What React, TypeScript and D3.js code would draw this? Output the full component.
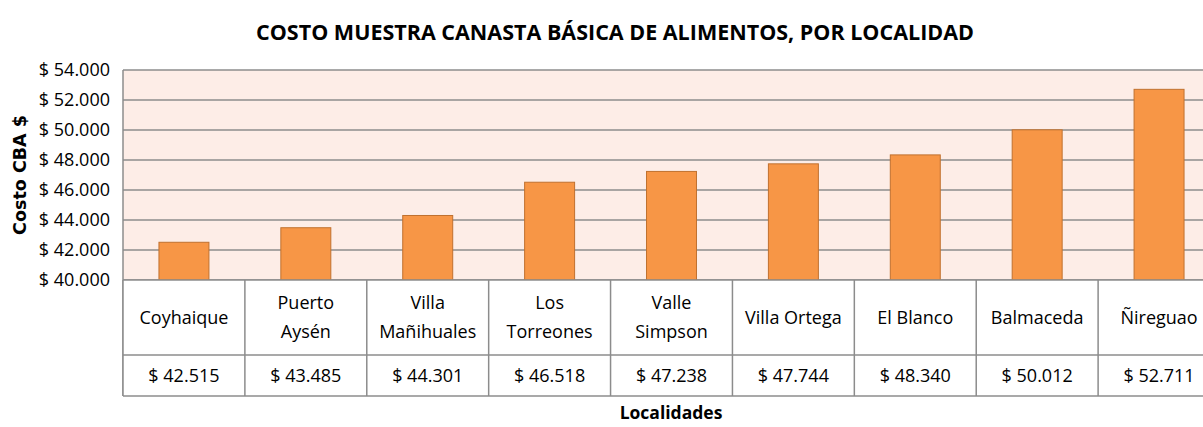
import React from "react";
import * as d3 from "d3";

const categories: string[][] = [
  ["Coyhaique"],
  ["Puerto", "Aysén"],
  ["Villa", "Mañihuales"],
  ["Los", "Torreones"],
  ["Valle", "Simpson"],
  ["Villa Ortega"],
  ["El Blanco"],
  ["Balmaceda"],
  ["Ñireguao"],
];
const values: number[] = [42515, 43485, 44301, 46518, 47238, 47744, 48340, 50012, 52711];
const yTicks: number[] = [40000, 42000, 44000, 46000, 48000, 50000, 52000, 54000];

const W = 1203;
const H = 427;
const left = 123;
const right = 1220;
const top = 70;
const bottom = 280;
const row1 = 355;
const row2 = 396;

const FONT = "'Open Sans', sans-serif";

const fmt = (v: number) => {
  const s = Math.round(v).toString();
  return s.slice(0, s.length - 3) + "." + s.slice(s.length - 3);
};

export default function App() {
  const keys = categories.map((c) => c.join(" "));
  const x = d3.scaleBand<string>().domain(keys).range([left, right]).padding(0);
  const y = d3.scaleLinear().domain([40000, 54000]).range([bottom, top]);
  const bw = x.bandwidth() * 0.41;
  const gridColor = "#8c8c8c";

  return (
    <svg
      width={W}
      height={H}
      style={{ position: "absolute", left: 0, top: 0, background: "#fff" }}
      fontFamily={FONT}
    >
      <rect x={left} y={top} width={right - left} height={bottom - top} fill="#FDEDE7" />
      {yTicks.map((t) => (
        <g key={t}>
          <line x1={left} x2={right} y1={y(t)} y2={y(t)} stroke={gridColor} strokeWidth={1.5} />
          <text x={110} y={y(t)} dy="0.35em" textAnchor="end" fontSize={18} fill="#000">
            {"$ " + fmt(t)}
          </text>
        </g>
      ))}
      <line x1={left} x2={left} y1={top} y2={row2} stroke={gridColor} strokeWidth={1.5} />
      {keys.map((k, i) => (
        <rect
          key={k}
          x={(x(k) as number) + (x.bandwidth() - bw) / 2}
          y={y(values[i])}
          width={bw}
          height={bottom - y(values[i])}
          fill="#F79646"
          stroke="#C0712F"
          strokeWidth={1}
        />
      ))}
      {/* table */}
      <rect x={left} y={bottom} width={right - left} height={row2 - bottom} fill="#fff" />
      <line x1={left} x2={right} y1={bottom} y2={bottom} stroke={gridColor} strokeWidth={1.5} />
      <line x1={left} x2={right} y1={row1} y2={row1} stroke={gridColor} strokeWidth={1.5} />
      <line x1={left} x2={right} y1={row2} y2={row2} stroke={gridColor} strokeWidth={1.5} />
      {keys.map((k) => (
        <line
          key={"v" + k}
          x1={x(k) as number}
          x2={x(k) as number}
          y1={bottom}
          y2={row2}
          stroke={gridColor}
          strokeWidth={1.5}
        />
      ))}
      <line x1={right} x2={right} y1={bottom} y2={row2} stroke={gridColor} strokeWidth={1.5} />
      {categories.map((c, i) => {
        const cx = (x(keys[i]) as number) + x.bandwidth() / 2;
        const mid = (bottom + row1) / 2;
        return (
          <text key={"c" + i} textAnchor="middle" fontSize={18} fill="#000">
            {c.map((line, j) => (
              <tspan key={j} x={cx} y={mid + (j - (c.length - 1) / 2) * 29} dy="0.35em">
                {line}
              </tspan>
            ))}
          </text>
        );
      })}
      {values.map((v, i) => (
        <text
          key={"t" + i}
          x={(x(keys[i]) as number) + x.bandwidth() / 2}
          y={(row1 + row2) / 2}
          dy="0.35em"
          textAnchor="middle"
          fontSize={18}
          fill="#000"
        >
          {"$ " + fmt(v)}
        </text>
      ))}
      <text x={615} y={32} dy="0.35em" textAnchor="middle" fontSize={21.5} fontWeight="bold" fill="#000">
        COSTO MUESTRA CANASTA BÁSICA DE ALIMENTOS, POR LOCALIDAD
      </text>
      <text
        transform={`translate(20,175) rotate(-90)`}
        dy="0.35em"
        textAnchor="middle"
        fontSize={17.5}
        fontWeight="bold"
        fontFamily="'DejaVu Sans', sans-serif"
        fill="#000"
      >
        Costo CBA $
      </text>
      <text x={671} y={413} dy="0.35em" textAnchor="middle" fontSize={17.5} fontWeight="bold" fill="#000">
        Localidades
      </text>
    </svg>
  );
}
